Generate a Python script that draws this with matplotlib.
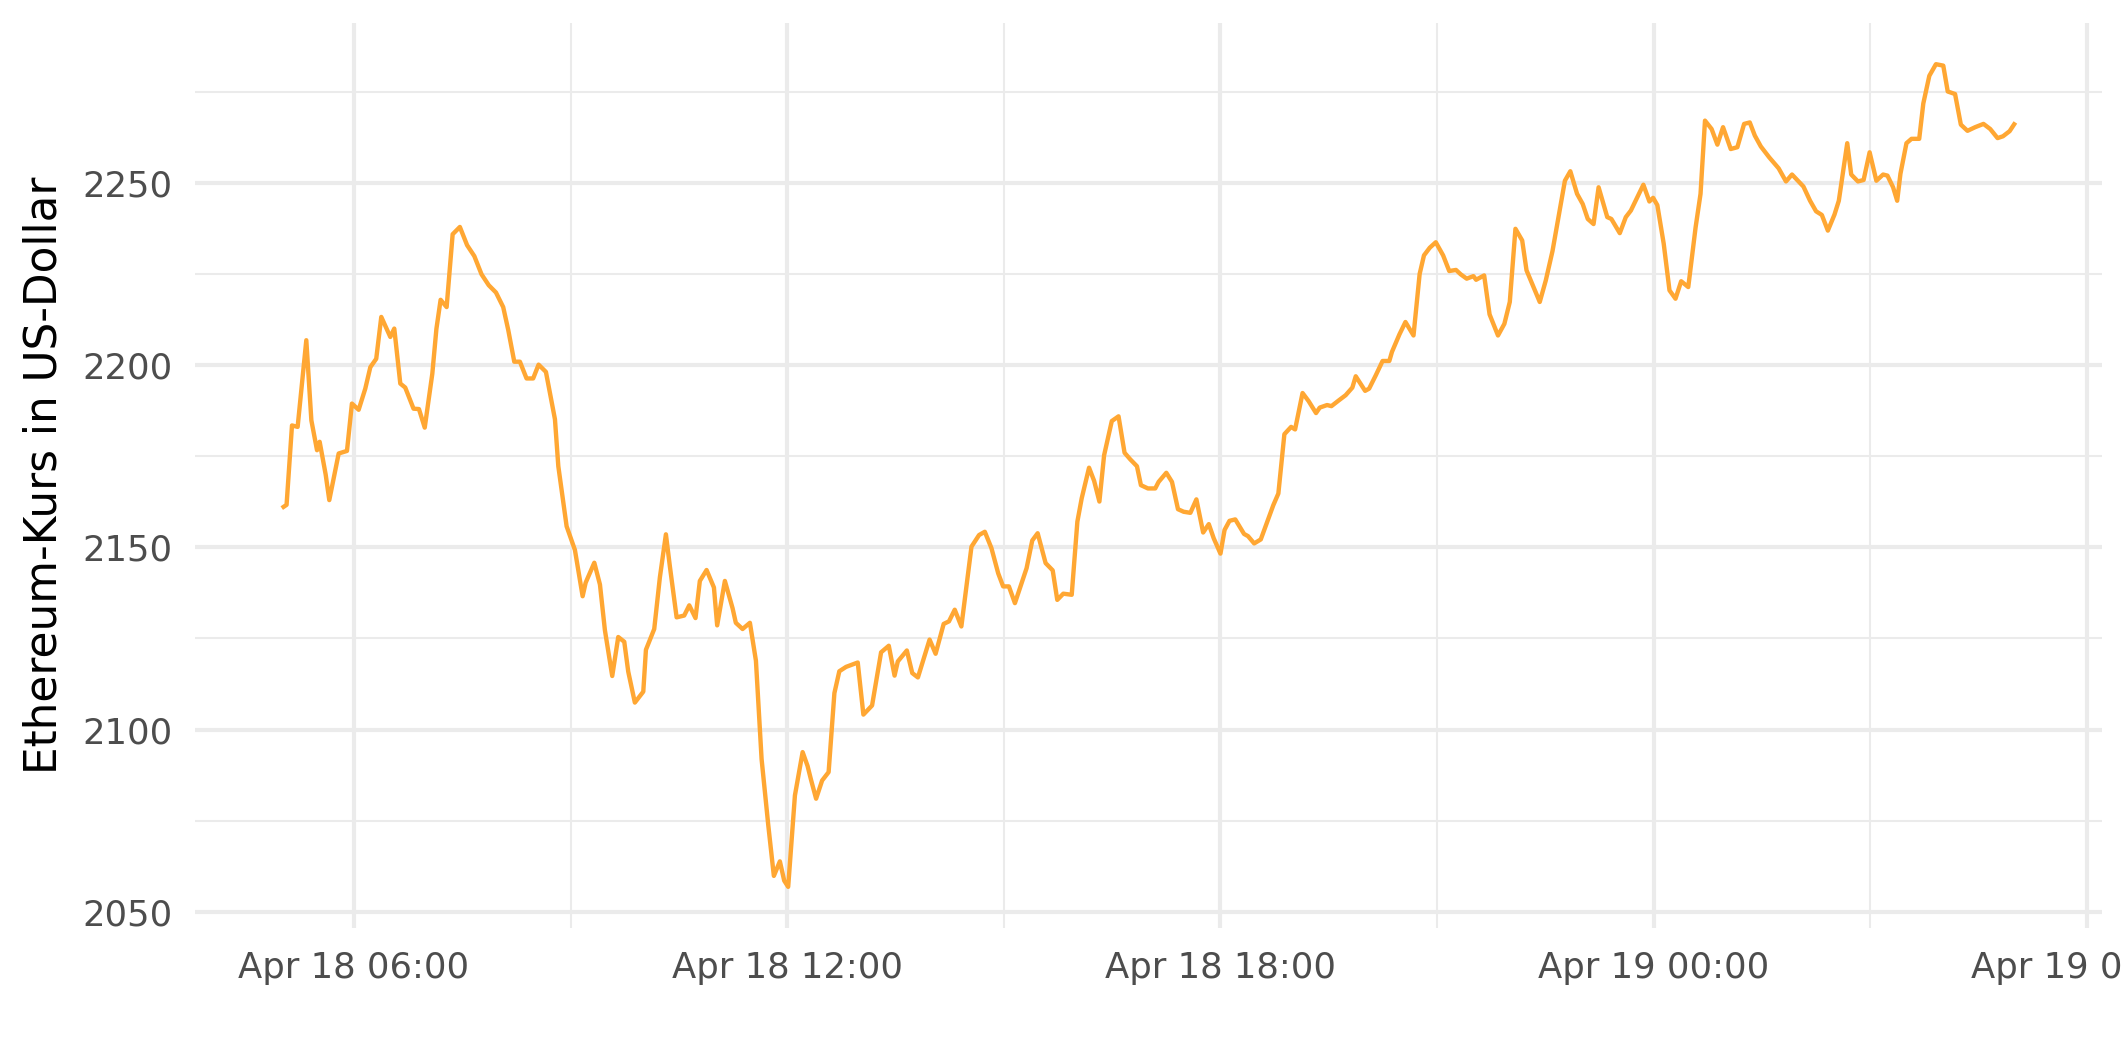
import pandas as pd
import matplotlib
matplotlib.use('Agg')
import matplotlib.pyplot as plt
import matplotlib.dates as mdates

# minutes since Apr 18 00:00 and price in USD
minutes = [300, 304, 308.5, 313.2, 320.4, 324.6, 329.3, 331.5, 336.5, 339.5,
           347.3, 354.2, 358.3, 363.9, 369.4, 373.6, 378.5, 382.7, 390.2, 393.5,
           398.5, 402.6, 409.5, 414.0, 418.8, 425.1, 428.5, 432, 437, 442,
           448, 454, 460, 466, 472, 478, 484, 488.2, 493.2, 497.9,
           503.4, 508.9, 513.4, 519.5, 527.0, 529.8, 536.7, 543.6, 550.0, 552.5,
           559.7, 564.4, 568.5, 574.6, 579.6, 584.6, 587.9, 593.4, 600.4, 602.6,
           609.5, 614.2, 619.2, 622.5, 628.1, 634.4, 638.6, 643.8, 647.4, 653.0,
           659.1, 661.8, 668.2, 674.6, 677.3, 682.9, 689.0, 694.0, 698.7, 704.2,
           708.9, 713.9, 717.5, 720.8, 726.4, 732.8, 736.9, 739.7, 744, 749,
           754.4, 759.2, 763.3, 768.9, 778.6, 783.3, 790.5, 798.0, 804.4, 809.2,
           811.9, 819.4, 823.9, 828.6, 838.3, 843.3, 850.0, 854.4, 859.2, 864.7,
           868.9, 873.1, 879.4, 884.2, 889.7, 895.3, 899.4, 904.2, 909.2, 918.9,
           923.6, 928.1, 934.7, 940.6, 944.4, 949.4, 956.4, 961.1, 964.7, 970.8,
           975.0, 979.4, 983.3, 989.7, 995.3, 1000.3, 1005.0, 1010.6, 1013.9, 1019.7,
           1025.8, 1028.6, 1035.0, 1039.7, 1044.7, 1049.4, 1055.0, 1060.0, 1065.6, 1070.3,
           1074.4, 1080.0, 1083.4, 1087.5, 1092.3, 1099.6, 1102.9, 1108.0, 1113.5, 1119.1,
           1123.9, 1128.1, 1133.1, 1138.7, 1142.0, 1148.2, 1153.2, 1159.4, 1162.5, 1168.6,
           1172.2, 1178.4, 1184.0, 1189.6, 1192.4, 1200.2, 1203.5, 1209.1, 1214.7, 1220.3,
           1222.5, 1228.7, 1233.7, 1240.4, 1245.5, 1249.1, 1253.9, 1258.9, 1265.0, 1270.1,
           1275.7, 1279.6, 1284.6, 1290.2, 1292.4, 1299.1, 1303.6, 1310.6, 1315.9, 1320.4,
           1325.1, 1330.7, 1334.3, 1345.3, 1350.3, 1355.9, 1360.6, 1366.2, 1370.7, 1376.3,
           1381.0, 1385.2, 1390.0, 1394.2, 1401.4, 1404.8, 1411.8, 1416.8, 1421.0, 1431.4,
           1436.4, 1439.5, 1443.0, 1448.3, 1453.1, 1458.1, 1462.8, 1468.7, 1474.8, 1478.9,
           1482.6, 1488.1, 1492.9, 1497.6, 1504.0, 1509.5, 1515.1, 1519.8, 1524.0, 1529.0,
           1536.0, 1543.8, 1549.9, 1554.9, 1564.4, 1569.9, 1574.9, 1579.7, 1584.7, 1590.2,
           1593.8, 1600.8, 1604.1, 1609.7, 1614.4, 1619.4, 1625.0, 1630.6, 1634.2, 1638.9,
           1642.3, 1645.0, 1650.0, 1654.2, 1660.6, 1664.0, 1669.0, 1674.5, 1680.6, 1684.3,
           1690.4, 1695.2, 1700.7, 1707.1, 1714.0, 1719.6, 1725.7, 1730.2, 1735.7, 1740.5]

kurs = [2160.8, 2161.7, 2183.5, 2183.1, 2206.9, 2184.9, 2176.7, 2179.0, 2170.0, 2163.0,
        2175.8, 2176.5, 2189.5, 2187.8, 2193.6, 2199.5, 2201.8, 2213.3, 2207.8, 2210.1,
        2195.0, 2193.9, 2188.1, 2188.0, 2182.9, 2197.7, 2210.0, 2218.0, 2216.0, 2236.0,
        2238.0, 2233.0, 2230.0, 2225.0, 2222.0, 2220.0, 2216.0, 2209.7, 2201.0, 2201.0,
        2196.4, 2196.4, 2200.2, 2198.2, 2185.2, 2172.3, 2155.8, 2149.3, 2136.6, 2140.3,
        2145.8, 2139.8, 2127.3, 2114.7, 2125.4, 2124.1, 2115.9, 2107.4, 2110.4, 2121.9,
        2127.6, 2141.8, 2153.6, 2144.8, 2130.8, 2131.3, 2134.1, 2130.6, 2140.8, 2143.8,
        2139.0, 2128.6, 2140.8, 2133.3, 2129.3, 2127.6, 2129.3, 2118.9, 2091.9, 2073.9,
        2059.8, 2063.8, 2058.5, 2056.8, 2081.9, 2093.8, 2090.0, 2086.3, 2081.0, 2086.0,
        2088.3, 2110.0, 2116.0, 2117.2, 2118.4, 2104.1, 2106.6, 2121.2, 2123.0, 2114.8,
        2118.7, 2121.7, 2115.5, 2114.3, 2124.7, 2120.8, 2129.0, 2129.7, 2132.9, 2128.3,
        2139.3, 2150.2, 2153.4, 2154.3, 2149.8, 2142.9, 2139.3, 2139.3, 2134.7, 2144.3,
        2151.9, 2153.9, 2145.7, 2143.7, 2135.6, 2137.3, 2137.0, 2157.1, 2163.5, 2171.9,
        2168.3, 2162.6, 2175.3, 2184.7, 2186.0, 2176.0, 2174.2, 2172.3, 2167.1, 2166.2,
        2166.2, 2168.0, 2170.5, 2168.0, 2160.5, 2159.8, 2159.5, 2163.2, 2154.1, 2156.4,
        2152.5, 2148.3, 2154.8, 2157.3, 2157.7, 2153.7, 2153.1, 2151.1, 2152.2, 2157.3,
        2161.6, 2164.8, 2181.1, 2183.1, 2182.4, 2192.4, 2190.2, 2186.9, 2188.4, 2189.1,
        2188.8, 2190.4, 2191.8, 2193.9, 2197.0, 2193.0, 2193.6, 2197.3, 2201.2, 2201.2,
        2203.7, 2208.5, 2211.9, 2208.2, 2225.1, 2230.2, 2232.3, 2233.8, 2230.2, 2225.9,
        2226.2, 2225.0, 2223.8, 2224.5, 2223.5, 2224.7, 2214.0, 2208.2, 2211.4, 2217.4,
        2237.5, 2234.3, 2226.1, 2217.4, 2223.3, 2231.4, 2240.2, 2250.7, 2253.3, 2247.1,
        2244.3, 2240.2, 2238.8, 2248.9, 2240.7, 2240.2, 2236.3, 2240.7, 2242.5, 2249.6,
        2245.0, 2246.0, 2244.0, 2233.4, 2220.6, 2218.3, 2223.1, 2221.5, 2237.9, 2247.1,
        2267.2, 2264.9, 2260.6, 2265.4, 2259.4, 2259.9, 2266.3, 2266.7, 2263.1, 2260.1,
        2257.1, 2254.1, 2250.5, 2252.4, 2249.1, 2245.2, 2242.3, 2241.3, 2237.0, 2241.4,
        2245.2, 2261.0, 2252.4, 2250.5, 2250.9, 2258.5, 2250.7, 2252.4, 2252.1, 2248.9,
        2245.2, 2252.6, 2261.0, 2262.2, 2262.2, 2271.9, 2279.5, 2282.7, 2282.3, 2275.2,
        2274.5, 2266.1, 2264.4, 2265.4, 2266.3, 2264.9, 2262.4, 2262.9, 2264.3, 2266.7]

y_major = [2050, 2100, 2150, 2200, 2250]
y_minor = [2075, 2125, 2175, 2225, 2275]

zeit = pd.Timestamp('2021-04-18') + pd.to_timedelta(minutes, unit='m')

fig = plt.figure(figsize=(2125 / 300, 1062 / 300), dpi=300, facecolor='white')
ax = fig.add_axes([0.0918, 0.1262, 0.8974, 0.8521])

ax.plot(zeit, kurs, color='#ffa733', linewidth=1.05,
        solid_joinstyle='round', solid_capstyle='butt')
ax.margins(x=0.05, y=0.05)

# --- x axis: dates ---
ax.xaxis.set_major_locator(mdates.HourLocator(byhour=[0, 6, 12, 18]))
ax.xaxis.set_minor_locator(mdates.HourLocator(byhour=[3, 9, 15, 21]))
ax.xaxis.set_major_formatter(mdates.DateFormatter('%b %d %H:%M'))

# --- y axis ---
ax.set_yticks(y_major)
ax.set_yticks(y_minor, minor=True)

# theme_minimal look
ax.grid(which='major', color='#ebebeb', linewidth=1.0)
ax.grid(which='minor', color='#ebebeb', linewidth=0.5)
ax.set_axisbelow(True)
for s in ax.spines.values():
    s.set_visible(False)
ax.tick_params(which='both', length=0, labelsize=8.5, labelcolor='#4d4d4d', pad=5.5)

ax.set_ylabel('Ethereum-Kurs in US-Dollar', fontsize=10.5, color='black', labelpad=4)

fig.savefig('out.png', dpi=300)
